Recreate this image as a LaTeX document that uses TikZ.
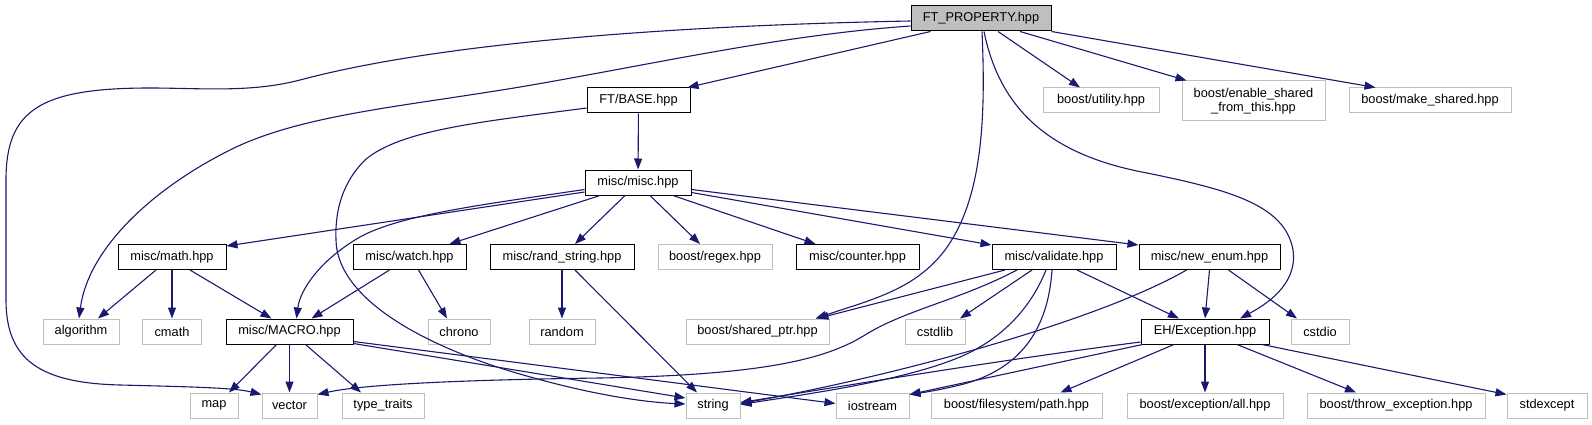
\documentclass[tikz,border=0pt]{standalone}
\usepackage{fontspec}
\setmainfont{Liberation Sans}
\usetikzlibrary{arrows.meta}
\definecolor{edgec}{HTML}{191970}
\definecolor{lgray}{HTML}{BFBFBF}
\begin{document}
\begin{tikzpicture}[x=1pt,y=-1pt,
  nd/.style={draw=black, line width=1pt, rectangle, inner sep=0pt, minimum height=25pt, fill=white, font=\fontsize{12.8}{14.5}\selectfont},
  gr/.style={nd, draw=lgray},
  rootnd/.style={nd, fill=lgray},
  ed/.style={draw=edgec, line width=1.1pt, -{Triangle[length=11pt,width=8pt]}}]
\useasboundingbox (0,0) rectangle (1592,425);
% row 0
\node[rootnd, minimum width=140pt] (prop) at (981,18.5) {FT\_PROPERTY.hpp};
% row 1
\node[nd, minimum width=103pt] (base) at (638.5,100.5) {FT/BASE.hpp};
\node[gr, minimum width=116pt] (util) at (1101,100.5) {boost/utility.hpp};
\node[gr, minimum width=143pt, minimum height=40pt, align=center] (enable) at (1253.5,101) {boost/enable\_shared\\\_from\_this.hpp};
\node[gr, minimum width=162pt] (make) at (1430,100.5) {boost/make\_shared.hpp};
% row 2
\node[nd, minimum width=106pt] (misc) at (638,182.5) {misc/misc.hpp};
% row 3
\node[nd, minimum width=108pt] (math) at (172,257) {misc/math.hpp};
\node[nd, minimum width=113pt] (watch) at (409.5,257) {misc/watch.hpp};
\node[nd, minimum width=144pt] (rand) at (562,257) {misc/rand\_string.hpp};
\node[gr, minimum width=114pt] (regex) at (715,257) {boost/regex.hpp};
\node[nd, minimum width=123pt] (counter) at (857.5,257) {misc/counter.hpp};
\node[nd, minimum width=124pt] (validate) at (1054,257) {misc/validate.hpp};
\node[nd, minimum width=141pt] (newenum) at (1209.5,257) {misc/new\_enum.hpp};
% row 4
\node[gr, minimum width=76pt] (algorithm) at (81,331.5) {algorithm};
\node[gr, minimum width=59pt] (cmath) at (172,331.5) {cmath};
\node[nd, minimum width=127pt] (macro) at (289.5,331.5) {misc/MACRO.hpp};
\node[gr, minimum width=62pt] (chrono) at (459,331.5) {chrono};
\node[gr, minimum width=66pt] (random) at (562,331.5) {random};
\node[gr, minimum width=143pt] (sharedptr) at (757.5,331.5) {boost/shared\_ptr.hpp};
\node[gr, minimum width=60pt] (cstdlib) at (935,331.5) {cstdlib};
\node[nd, minimum width=128pt] (exc) at (1205,331.5) {EH/Exception.hpp};
\node[gr, minimum width=58pt] (cstdio) at (1320,331.5) {cstdio};
% row 5
\node[gr, minimum width=48pt] (map) at (214,405.5) {map};
\node[gr, minimum width=55pt] (vector) at (289.5,405.5) {vector};
\node[gr, minimum width=82pt] (typetraits) at (383,405.5) {type\_traits};
\node[gr, minimum width=54pt] (string) at (713,405.5) {string};
\node[gr, minimum width=73pt] (iostream) at (872.5,405.5) {iostream};
\node[gr, minimum width=171pt] (fspath) at (1016.5,405.5) {boost/filesystem/path.hpp};
\node[gr, minimum width=156pt] (excall) at (1205,405.5) {boost/exception/all.hpp};
\node[gr, minimum width=178pt] (throw) at (1396,405.5) {boost/throw\_exception.hpp};
\node[gr, minimum width=80pt] (stdexcept) at (1547,405.5) {stdexcept};

% edges from FT_PROPERTY
\draw[ed] ([yshift=-2.5pt]prop.west) .. controls (700,25) and (450,40) .. (300,80)
  .. controls (250,93) and (200,88) .. (150,88)
  .. controls (40,88) and (6,110) .. (6,180) -- (6,300)
  .. controls (6,360) and (40,383) .. (120,385)
  .. controls (200,387) and (235,388) .. ([yshift=-2pt]vector.north west);
\draw[ed] ([yshift=-7.5pt]prop.west) .. controls (780,35) and (650,65) .. (520,87)
  .. controls (400,107) and (300,115) .. (230,150)
  .. controls (150,190) and (88,250) .. ([xshift=-2pt]algorithm.north);
\draw[ed] ([xshift=20pt]prop.south west) -- ([xshift=-3pt]base.north east);
\draw[ed] ([xshift=1pt]prop.south) .. controls (986,120) and (982,200) .. (945,250)
  .. controls (915,290) and (870,300) .. ([xshift=-14pt]sharedptr.north east);
\draw[ed] ([xshift=3pt]prop.south) .. controls (1000,110) and (1050,155) .. (1147,173)
  .. controls (1230,190) and (1285,205) .. (1293,250)
  .. controls (1298,285) and (1265,305) .. ([xshift=35pt]exc.north);
\draw[ed] ([xshift=17pt]prop.south) -- ([xshift=-21pt]util.north);
\draw[ed] ([xshift=39pt]prop.south) -- ([xshift=5pt]enable.north west);
\draw[ed] (prop.south east) -- ([xshift=27pt]make.north west);
% FT/BASE
\draw[ed] (base) -- (misc);
\draw[ed] ([yshift=-7.5pt]base.west) .. controls (480,122) and (400,130) .. (365,160)
  .. controls (340,185) and (335,215) .. (336,240)
  .. controls (337,290) and (400,335) .. (500,368)
  .. controls (580,393) and (640,402) .. ([yshift=1.5pt]string.west);
% misc/misc
\draw[ed] ([yshift=-9.5pt]misc.west) -- ([yshift=-2pt]math.north east);
\draw[ed] ([yshift=-7pt]misc.west) .. controls (480,205) and (400,215) .. (360,237)
  .. controls (320,260) and (300,290) .. ([xshift=7pt]macro.north);
\draw[ed] ([xshift=-38pt]misc.south) -- ([xshift=40pt]watch.north);
\draw[ed] ([xshift=-13pt]misc.south) -- ([xshift=13pt]rand.north);
\draw[ed] ([xshift=12pt]misc.south) -- ([xshift=-15pt]regex.north);
\draw[ed] ([xshift=35pt]misc.south) -- ([xshift=-42pt]counter.north);
\draw[ed] ([yshift=-10pt]misc.east) -- ([yshift=-1pt]validate.north west);
\draw[ed] ([yshift=-7pt]misc.east) -- ([yshift=-1pt]newenum.north west);
% misc/math
\draw[ed] ([xshift=-16pt]math.south) -- ([xshift=17pt]algorithm.north);
\draw[ed] (math) -- (cmath);
\draw[ed] ([xshift=18pt]math.south) -- ([xshift=-18pt]macro.north);
% misc/watch
\draw[ed] ([xshift=-20pt]watch.south) -- ([xshift=22pt]macro.north);
\draw[ed] ([xshift=9pt]watch.south) -- ([xshift=-12pt]chrono.north);
% misc/rand_string
\draw[ed] (rand) -- (random);
\draw[ed] ([xshift=13pt]rand.south) -- ([xshift=-16pt]string.north);
% misc/MACRO
\draw[ed] ([xshift=-13pt]macro.south) -- ([xshift=15pt]map.north);
\draw[ed] (macro) -- (vector);
\draw[ed] ([xshift=16pt]macro.south) -- ([xshift=-22pt]typetraits.north);
\draw[ed] ([yshift=-12pt]macro.east) -- ([yshift=7.5pt]string.west);
\draw[ed] ([yshift=-10pt]macro.east) -- ([yshift=2pt]iostream.west);
% misc/validate
\draw[ed] ([xshift=-49pt]validate.south) -- ([xshift=-12pt]sharedptr.north east);
\draw[ed] ([xshift=-37pt]validate.south) .. controls (960,300) and (905,310) .. (865,335)
  .. controls (825,360) and (760,375) .. (600,378)
  .. controls (450,380) and (360,385) .. ([yshift=-2pt]vector.north east);
\draw[ed] ([xshift=-22pt]validate.south) -- ([xshift=25pt]cstdlib.north);
\draw[ed] ([xshift=-8pt]validate.south) .. controls (1030,310) and (1000,340) .. (960,357)
  .. controls (900,382) and (800,395) .. ([yshift=1pt]string.east);
\draw[ed] ([xshift=-2pt]validate.south) .. controls (1048,330) and (1020,370) .. (960,385)
  .. controls (935,391) and (920,393) .. ([yshift=-2pt]iostream.north east);
\draw[ed] ([xshift=23pt]validate.south) -- ([xshift=-26pt]exc.north);
% misc/new_enum
\draw[ed] (newenum.south) -- (exc.north);
\draw[ed] ([xshift=19pt]newenum.south) -- ([xshift=-23pt]cstdio.north);
\draw[ed] ([xshift=-23pt]newenum.south) .. controls (1100,320) and (900,375) .. ([yshift=2pt]string.east);
% EH/Exception
\draw[ed] ([yshift=-10.5pt]exc.west) .. controls (1000,360) and (850,385) .. ([yshift=3pt]string.east);
\draw[ed] ([xshift=2pt]exc.south west) -- ([yshift=-2pt]iostream.north east);
\draw[ed] ([xshift=-31pt]exc.south) -- ([xshift=44pt]fspath.north);
\draw[ed] (exc) -- (excall);
\draw[ed] ([xshift=32pt]exc.south) -- ([xshift=-40pt]throw.north);
\draw[ed] ([xshift=57pt]exc.south) -- ([yshift=-2pt]stdexcept.north west);
\end{tikzpicture}
\end{document}
